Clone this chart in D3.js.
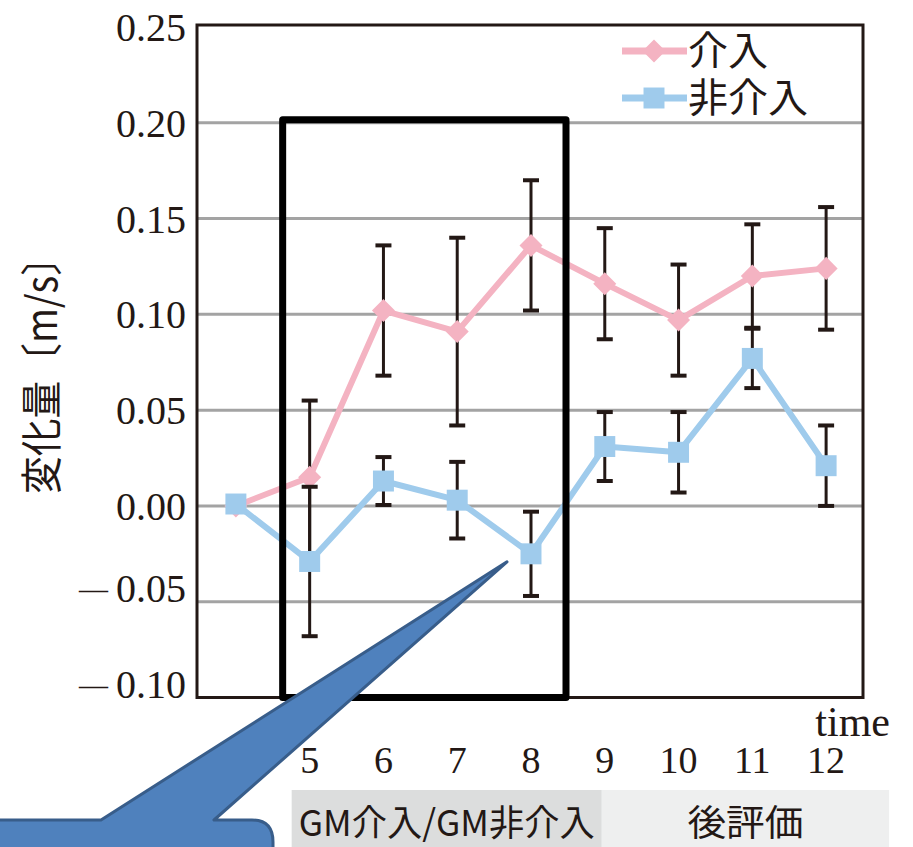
<!DOCTYPE html>
<html>
<head>
<meta charset="utf-8">
<script src="https://cdn.jsdelivr.net/npm/d3@7"></script>
<style>
  body { margin: 0; background: #fff; }
  svg { display: block; }
</style>
</head>
<body>
<svg id="chart" width="913" height="847"></svg>
<script>
// time points (the first one is the baseline, its label sits under the callout)
let times = ['4', '5', '6', '7', '8', '9', '10', '11', '12'];
let yTicks = [0.25, 0.20, 0.15, 0.10, 0.05, 0.00, -0.05, -0.10];

let interv = [0.000, 0.015, 0.102, 0.091, 0.136, 0.116, 0.097, 0.120, 0.124];
let intervErr = [null, 0.040, 0.034, 0.049, 0.034, 0.029, 0.029, 0.027, 0.032];
let nonInterv = [0.001, -0.029, 0.013, 0.003, -0.025, 0.031, 0.028, 0.077, 0.021];
let nonIntervErr = [null, 0.039, 0.0125, 0.020, 0.022, 0.018, 0.021, 0.0155, 0.021];

let seriesNames = ['介入', '非介入'];
let phaseNames = ['GM介入/GM非介入', '後評価'];

const latin = "'Liberation Serif', 'DejaVu Serif', serif";
const cjk = "'Noto Sans CJK JP', 'Noto Sans', sans-serif";
const pink = '#f4b3c2';
const blue = '#9fcbec';
const ink = '#231815';

let svg = d3.select('#chart');

let plotL = 197, plotR = 863, plotT = 27, plotB = 697.5;

let x = d3.scalePoint()
  .domain(times)
  .range([199, 863])
  .padding(0.5);

let y = d3.scaleLinear()
  .domain([-0.10, 0.25])
  .range([plotB, plotT]);

// gridlines
svg.append('g')
  .selectAll('line')
  .data(yTicks.filter(d => d < 0.25 && d > -0.10))
  .enter()
  .append('line')
  .attr('x1', plotL)
  .attr('x2', plotR)
  .attr('y1', d => y(d))
  .attr('y2', d => y(d))
  .attr('stroke', '#a3a3a3')
  .attr('stroke-width', 3);

// plot frame
svg.append('rect')
  .attr('x', plotL)
  .attr('y', 25)
  .attr('width', plotR - plotL)
  .attr('height', plotB - 25)
  .attr('fill', 'none')
  .attr('stroke', ink)
  .attr('stroke-width', 3);

// y tick labels
svg.append('g')
  .selectAll('text')
  .data(yTicks)
  .enter()
  .append('text')
  .attr('x', 186)
  .attr('y', d => y(d))
  .attr('dy', '0.35em')
  .attr('text-anchor', 'end')
  .attr('font-family', latin)
  .attr('font-size', 40)
  .attr('fill', ink)
  .each(function (d) {
    let t = d3.select(this);
    if (d < 0) {
      t.append('tspan').attr('font-size', 29).attr('dy', '-0.08em').text('\u2014');
      t.append('tspan').attr('dx', 8).attr('dy', '0.06em').text(d3.format('.2f')(-d));
    } else {
      t.text(d3.format('.2f')(d));
    }
  });

// y axis title
svg.append('text')
  .attr('transform', 'translate(42,366) rotate(-90)')
  .attr('text-anchor', 'middle')
  .attr('dy', '0.35em')
  .attr('font-family', cjk)
  .attr('font-size', 42)
  .attr('fill', ink)
  .attr('textLength', 256)
  .attr('lengthAdjust', 'spacingAndGlyphs')
  .text('変化量〔m/s〕');

// x tick labels
svg.append('g')
  .selectAll('text')
  .data(times)
  .enter()
  .append('text')
  .attr('x', d => x(d))
  .attr('y', 773)
  .attr('text-anchor', 'middle')
  .attr('font-family', latin)
  .attr('font-size', 38)
  .attr('fill', ink)
  .text(d => d);

svg.append('text')
  .attr('x', 890)
  .attr('y', 736)
  .attr('text-anchor', 'end')
  .attr('font-family', latin)
  .attr('font-size', 42)
  .attr('fill', ink)
  .text('time');

// phase bands under the axis
let phases = [
  { name: phaseNames[0], x0: x('5') - 18, x1: x('9') - 3, fill: '#dcdddd' },
  { name: phaseNames[1], x0: x('9') - 3, x1: x('12') + 63, fill: '#eeefef' }
];
let ph = svg.append('g').selectAll('g').data(phases).enter().append('g');
ph.append('rect')
  .attr('x', d => d.x0)
  .attr('y', 790)
  .attr('width', d => d.x1 - d.x0)
  .attr('height', 60)
  .attr('fill', d => d.fill);
ph.append('text')
  .attr('x', d => (d.x0 + d.x1) / 2)
  .attr('y', 836)
  .attr('text-anchor', 'middle')
  .attr('font-family', cjk)
  .attr('font-size', 36)
  .attr('fill', ink)
  .attr('textLength', (d, i) => i === 0 ? 296 : 116)
  .attr('lengthAdjust', 'spacingAndGlyphs')
  .text(d => d.name);

// series: pink uses a square turned 45 degrees, blue a plain square
let series = [
  { name: seriesNames[0], values: interv, errs: intervErr, color: pink, size: 265, rot: 45 },
  { name: seriesNames[1], values: nonInterv, errs: nonIntervErr, color: blue, size: 440, rot: 0 }
];

let line = d3.line()
  .x((d, i) => x(times[i]))
  .y(d => y(d));

let capW = 8;
series.forEach(function (s) {
  let g = svg.append('g');
  g.append('path')
    .datum(s.values)
    .attr('d', line)
    .attr('fill', 'none')
    .attr('stroke', s.color)
    .attr('stroke-width', 6)
    .attr('stroke-linejoin', 'round');

  let eb = g.selectAll('g.err')
    .data(s.values.map((v, i) => ({ t: times[i], v: v, e: s.errs[i] })).filter(d => d.e != null))
    .enter()
    .append('g');
  eb.append('line')
    .attr('x1', d => x(d.t)).attr('x2', d => x(d.t))
    .attr('y1', d => y(d.v + d.e)).attr('y2', d => y(d.v - d.e))
    .attr('stroke', ink).attr('stroke-width', 3);
  eb.append('line')
    .attr('x1', d => x(d.t) - capW).attr('x2', d => x(d.t) + capW)
    .attr('y1', d => y(d.v + d.e)).attr('y2', d => y(d.v + d.e))
    .attr('stroke', ink).attr('stroke-width', 4);
  eb.append('line')
    .attr('x1', d => x(d.t) - capW).attr('x2', d => x(d.t) + capW)
    .attr('y1', d => y(d.v - d.e)).attr('y2', d => y(d.v - d.e))
    .attr('stroke', ink).attr('stroke-width', 4);

  g.selectAll('path.m')
    .data(s.values)
    .enter()
    .append('path')
    .attr('transform', (d, i) => `translate(${x(times[i])},${y(d)}) rotate(${s.rot})`)
    .attr('d', d3.symbol().type(d3.symbolSquare).size(s.size))
    .attr('fill', s.color);
});

// legend
let lg = svg.append('g')
  .selectAll('g')
  .data(series)
  .enter()
  .append('g')
  .attr('transform', (d, i) => `translate(0,${51 + i * 47})`);
lg.append('line')
  .attr('x1', 622).attr('x2', 687)
  .attr('stroke', d => d.color)
  .attr('stroke-width', 7);
lg.append('path')
  .attr('transform', d => `translate(654,0) rotate(${d.rot})`)
  .attr('d', d => d3.symbol().type(d3.symbolSquare).size(d.size)())
  .attr('fill', d => d.color);
lg.append('text')
  .attr('x', 688)
  .attr('dy', '0.36em')
  .attr('font-family', cjk)
  .attr('font-size', 40)
  .attr('fill', ink)
  .text(d => d.name);

// highlighted period (weeks 5-8)
svg.append('rect')
  .attr('x', x('5') - 27)
  .attr('y', y(0.20) - 3)
  .attr('width', (x('8') + 35) - (x('5') - 27))
  .attr('height', y(-0.10) - y(0.20) + 3)
  .attr('fill', 'none')
  .attr('stroke', '#000')
  .attr('stroke-width', 7)
  .attr('stroke-linejoin', 'round');

// callout pointing at the week 8 dip
let tip = [x('8') - 24, y(-0.025) + 8];
let callout = d3.path();
callout.moveTo(-10, 820);
callout.lineTo(101, 820);
callout.lineTo(tip[0], tip[1]);
callout.lineTo(214, 820);
callout.lineTo(252, 820);
callout.quadraticCurveTo(273, 820, 273, 842);
callout.lineTo(273, 870);
callout.lineTo(-10, 870);
callout.closePath();
svg.append('path')
  .attr('d', callout.toString())
  .attr('fill', '#4f81bd')
  .attr('stroke', '#385d8a')
  .attr('stroke-width', 3)
  .attr('stroke-linejoin', 'round');
</script>
</body>
</html>
